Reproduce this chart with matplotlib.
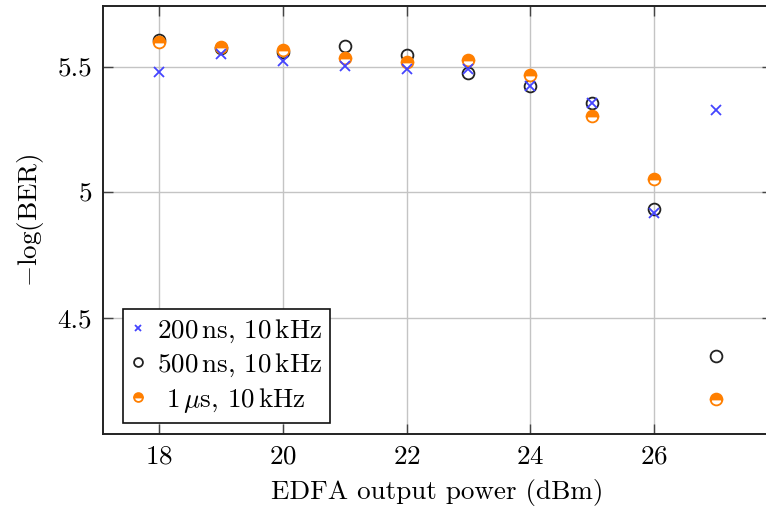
import matplotlib
matplotlib.use("Agg")
import matplotlib.pyplot as plt

FS = 19.5
plt.rcParams.update({
    "font.family": "serif",
    "font.serif": ["cmr10", "DejaVu Serif"],
    "mathtext.fontset": "cm",
    "axes.formatter.use_mathtext": True,
    "font.size": FS,
})

# EDFA output power (dBm)
power = [18, 19, 20, 21, 22, 23, 24, 25, 26, 27]

# -log(BER) for each pulse width at 10 kHz repetition
ber_200ns = [5.480, 5.549, 5.523, 5.502, 5.490, 5.490, 5.423, 5.357, 4.918, 5.327]
ber_500ns = [5.606, 5.573, 5.559, 5.582, 5.547, 5.475, 5.423, 5.357, 4.932, 4.347]
ber_1us = [5.600, 5.580, 5.567, 5.533, 5.517, 5.528, 5.467, 5.304, 5.051, 4.175]

labels = [r"200$\,$ns, 10$\,$kHz", r"500$\,$ns, 10$\,$kHz", r" 1$\,\mu$s, 10$\,$kHz"]

x_ticks = [18, 20, 22, 24, 26]
y_ticks = [4.5, 5.0, 5.5]
y_ticklabels = ["4.5", "5", "5.5"]

W, H = 766, 511
fig = plt.figure(figsize=(W / 100, H / 100), dpi=100)
ax = fig.add_axes([103.3 / W, 1 - 434 / H, (771.6 - 103.3) / W, (434 - 6) / H])

orange = "#ff7f00"
ax.plot(power, ber_200ns, linestyle="none", marker="x", markersize=6.5,
        markeredgewidth=1.3, color="#4444ff", label=labels[0], zorder=4)
ax.plot(power, ber_500ns, linestyle="none", marker="o", markersize=8.5,
        markeredgewidth=1.3, markerfacecolor="none", markeredgecolor="#222222",
        label=labels[1], zorder=3)
ax.plot(power, ber_1us, linestyle="none", marker="o", markersize=8.5,
        markeredgewidth=1.3, fillstyle="top", markerfacecolor=orange,
        markerfacecoloralt="white", markeredgecolor=orange,
        label=labels[2], zorder=3)

ax.set_xlim(17.1, 27.9)
ax.set_ylim(4.037, 5.742)
ax.set_xticks(x_ticks)
ax.set_yticks(y_ticks)
ax.set_yticklabels(y_ticklabels)

ax.grid(True, color="#c4c4c4", linewidth=1.0, zorder=0)
ax.set_axisbelow(True)
ax.tick_params(direction="in", top=True, right=True, length=7, width=1.0,
               color="#444444", labelsize=FS, pad=8)
for s in ax.spines.values():
    s.set_linewidth(1.4)
    s.set_color("#222222")

ax.set_xlabel("EDFA output power (dBm)", fontsize=FS, labelpad=7)
ax.set_ylabel(r"$-\log(\mathrm{BER})$", fontsize=FS, labelpad=8)

leg = ax.legend(loc="lower left", bbox_to_anchor=(123 / W, 1 - 423 / H),
                bbox_transform=fig.transFigure, borderaxespad=0,
                fancybox=False, framealpha=1, edgecolor="#111111",
                markerscale=0.75, handlelength=0.5, handletextpad=0.45,
                labelspacing=0.25, borderpad=0.3, fontsize=FS)
leg.get_frame().set_linewidth(1.2)

fig.savefig("out.png", dpi=100)
